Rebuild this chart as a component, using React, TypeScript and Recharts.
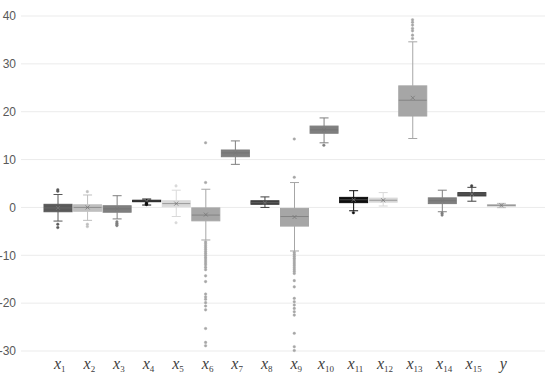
import React from 'react';
import { ComposedChart, Bar, Scatter, XAxis, YAxis, CartesianGrid } from 'recharts';

const categories = ['x1', 'x2', 'x3', 'x4', 'x5', 'x6', 'x7', 'x8', 'x9', 'x10', 'x11', 'x12', 'x13', 'x14', 'x15', 'y'];
const whiskerLow = [-2.85, -2.7, -2.4, 0.5, -1.9, -6.8, 9.0, 0.0, -9.1, 13.5, -0.7, 0.3, 14.4, -0.9, 1.3, -0.05];
const q1 = [-0.9, -0.8, -1.0, 1.2, 0.15, -2.8, 10.6, 0.65, -3.9, 15.5, 1.0, 1.1, 19.1, 0.8, 2.4, 0.3];
const medians = [-0.1, 0.0, -0.3, 1.35, 0.8, -1.6, 11.4, 1.0, -1.9, 16.2, 1.6, 1.5, 22.4, 1.4, 2.8, 0.45];
const q3 = [0.65, 0.55, 0.35, 1.5, 1.4, -0.1, 12.0, 1.4, -0.2, 17.0, 2.1, 1.95, 25.4, 2.0, 3.1, 0.55];
const whiskerHigh = [2.7, 2.6, 2.45, 1.75, 3.6, 3.8, 13.9, 2.2, 5.2, 18.7, 3.5, 3.1, 34.6, 3.6, 4.2, 0.85];
const means = [-0.1, 0.0, -0.3, 1.3, 0.8, -1.5, 11.4, 1.0, -2.0, 16.2, 1.6, 1.5, 22.9, 1.4, 2.8, 0.45];
const outliers: number[][] = [
  [3.7, 3.4, -3.5, -4.2],
  [3.3, -3.5, -4.0],
  [-3.0, -3.3, -3.6, -3.8],
  [0.9, 0.7, 0.6],
  [4.5, -3.2],
  [13.5, 5.2, -7.2, -7.6, -8.0, -8.4, -8.8, -9.2, -9.6, -10.0, -10.4, -10.8, -11.2, -11.6, -12.0, -12.5, -13.0, -14.3, -15.5, -18.1, -18.7, -19.2, -19.9, -20.6, -21.4, -25.3, -28.2, -28.9],
  [],
  [],
  [14.3, 6.3, -9.4, -9.8, -10.2, -10.6, -11.0, -11.4, -11.8, -12.2, -12.6, -13.0, -13.4, -13.8, -15.3, -16.6, -19.0, -19.7, -20.4, -21.1, -21.8, -22.5, -26.3, -29.1, -29.9],
  [13.0],
  [-1.1],
  [],
  [39.2, 38.7, 38.1, 37.4, 36.9, 36.0, 35.3],
  [-1.2, -1.6],
  [4.5],
  [],
];
const colors = ['#595959', '#bfbfbf', '#7f7f7f', '#0d0d0d', '#d9d9d9', '#a6a6a6', '#7f7f7f', '#404040', '#a6a6a6', '#7f7f7f', '#0d0d0d', '#d9d9d9', '#a6a6a6', '#7f7f7f', '#404040', '#bfbfbf'];
const yTicks = [-30, -20, -10, 0, 10, 20, 30, 40];

const boxData = categories.map((name, i) => ({
  name,
  range: [whiskerLow[i], whiskerHigh[i]],
  low: whiskerLow[i],
  high: whiskerHigh[i],
  q1: q1[i],
  median: medians[i],
  q3: q3[i],
  mean: means[i],
  color: colors[i],
}));

const outlierData = categories.flatMap((name, i) =>
  outliers[i].map((value) => ({ name, value, color: colors[i] }))
);

const BoxShape = (props: any) => {
  const { x, y, width, height, payload } = props;
  if (!payload) return null;
  const { low, high, color } = payload;
  const top = Math.min(y, y + height);
  const h = Math.abs(height);
  const py = (v: number) => top + ((high - v) / (high - low)) * h;
  const cx = x + width / 2;
  const cap = 4.5;
  const boxTop = py(payload.q3);
  const boxBot = py(payload.q1);
  const my = py(payload.mean);
  return (
    <g>
      <line x1={cx} x2={cx} y1={py(high)} y2={boxTop} stroke={color} strokeWidth={1} />
      <line x1={cx} x2={cx} y1={boxBot} y2={py(low)} stroke={color} strokeWidth={1} />
      <line x1={cx - cap} x2={cx + cap} y1={py(high)} y2={py(high)} stroke={color} strokeWidth={1} />
      <line x1={cx - cap} x2={cx + cap} y1={py(low)} y2={py(low)} stroke={color} strokeWidth={1} />
      <rect x={x} y={boxTop} width={width} height={Math.max(boxBot - boxTop, 1)} fill={color} stroke={color} strokeWidth={1} />
      <line x1={x} x2={x + width} y1={py(payload.median)} y2={py(payload.median)} stroke="#6e6e6e" strokeWidth={1} strokeOpacity={0.6} />
      <line x1={cx - 2} x2={cx + 2} y1={my - 2} y2={my + 2} stroke="#777" strokeWidth={0.8} />
      <line x1={cx - 2} x2={cx + 2} y1={my + 2} y2={my - 2} stroke="#777" strokeWidth={0.8} />
    </g>
  );
};

const OutlierShape = (props: any) => {
  const { cx, cy, payload } = props;
  return <circle cx={cx} cy={cy} r={1.3} fill={payload.color} stroke={payload.color} strokeWidth={0.4} />;
};

const XTick = (props: any) => {
  const { x, y, payload } = props;
  const label: string = payload.value;
  const sub = label.slice(1);
  return (
    <text x={x + 2} y={y + 10} textAnchor="middle" fontFamily="Liberation Serif" fill="#404040">
      <tspan fontSize={16} fontStyle="italic">{label[0]}</tspan>
      {sub && (
        <tspan fontSize={9} dy={3}>{sub}</tspan>
      )}
    </text>
  );
};

const App: React.FC = () => {
  return (
    <div style={{ position: 'absolute', left: 0, top: 0, width: 550, height: 377, background: '#fff' }}>
      <ComposedChart
        width={550}
        height={377}
        data={boxData}
        margin={{ top: 16, right: 5, bottom: 0, left: 0 }}
      >
        <CartesianGrid vertical={false} stroke="#ebebeb" />
        <XAxis
          dataKey="name"
          type="category"
          allowDuplicatedCategory={false}
          axisLine={false}
          tickLine={false}
          height={26}
          padding={{ left: 22, right: 29 }}
          tick={<XTick />}
          interval={0}
        />
        <YAxis
          type="number"
          domain={[-30, 40]}
          ticks={yTicks}
          axisLine={false}
          tickLine={false}
          width={21}
          tickSize={0}
          tickMargin={5}
          tick={{ fontSize: 12, fill: '#595959', fontFamily: 'Liberation Sans' }}
        />
        <Bar dataKey="range" barSize={28} shape={<BoxShape />} isAnimationActive={false} />
        <Scatter data={outlierData} dataKey="value" shape={<OutlierShape />} isAnimationActive={false} />
      </ComposedChart>
    </div>
  );
};

export default App;
